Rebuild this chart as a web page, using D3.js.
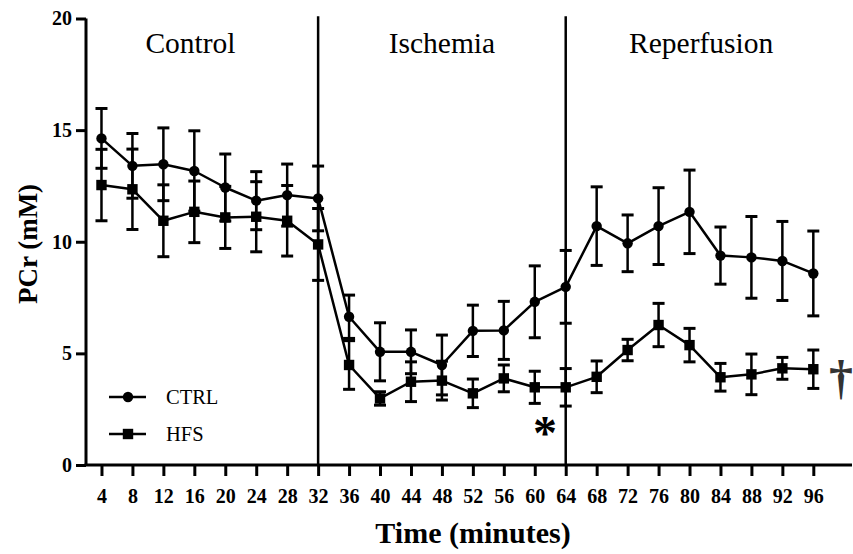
<!DOCTYPE html>
<html>
<head>
<meta charset="utf-8">
<script src="https://cdn.jsdelivr.net/npm/d3@7"></script>
<style>
  html, body { margin: 0; padding: 0; background: #fff; }
  svg { display: block; }
  svg text { font-family: "Liberation Serif", "Tinos", "Times New Roman", "DejaVu Serif", serif; }
</style>
</head>
<body>
<svg id="chart" width="853" height="554"></svg>
<script>
// ---- data ----
const times = [4, 8, 12, 16, 20, 24, 28, 32, 36, 40, 44, 48, 52, 56, 60, 64, 68, 72, 76, 80, 84, 88, 92, 96];
const ctrlMean = [14.63, 13.40, 13.47, 13.17, 12.43, 11.84, 12.09, 11.94, 6.64, 5.07, 5.07, 4.48, 6.01, 6.03, 7.31, 7.98, 10.70, 9.93, 10.70, 11.34, 9.38, 9.30, 9.14, 8.58];
const ctrlErr  = [1.34, 1.45, 1.63, 1.80, 1.50, 1.30, 1.39, 1.45, 0.97, 1.30, 0.98, 1.34, 1.15, 1.30, 1.61, 1.63, 1.76, 1.27, 1.72, 1.87, 1.28, 1.83, 1.77, 1.90];
const hfsMean  = [12.54, 12.35, 10.94, 11.34, 11.09, 11.12, 10.94, 9.88, 4.48, 2.98, 3.73, 3.78, 3.21, 3.88, 3.48, 3.48, 3.95, 5.15, 6.27, 5.37, 3.93, 4.06, 4.33, 4.29];
const hfsErr   = [1.60, 1.80, 1.61, 1.38, 1.39, 1.57, 1.58, 1.61, 1.09, 0.30, 0.89, 0.87, 0.64, 0.60, 0.72, 0.84, 0.71, 0.48, 0.97, 0.75, 0.62, 0.91, 0.49, 0.86];
const xTicks = [4, 8, 12, 16, 20, 24, 28, 32, 36, 40, 44, 48, 52, 56, 60, 64, 68, 72, 76, 80, 84, 88, 92, 96];
const yTicks = [0, 5, 10, 15, 20];
const phaseBounds = [32, 64];
const phases = [
  { name: "Control", t: 15.5 },
  { name: "Ischemia", t: 48 },
  { name: "Reperfusion", t: 81.5 }
];
const seriesNames = ["CTRL", "HFS"];

// ---- scales ----
const svg = d3.select("#chart");
const x = d3.scaleLinear().domain([2, 101]).range([86, 852]);
const y = d3.scaleLinear().domain([0, 20]).range([465, 18.5]);

const serif = '"Liberation Serif", "Tinos", "Times New Roman", "DejaVu Serif", serif';

// ---- axes ----
const yAxis = d3.axisLeft(y).tickValues(yTicks).tickSize(10).tickPadding(4).tickFormat(d3.format("d"));
const gy = svg.append("g").attr("transform", `translate(${x(2)},0)`).call(yAxis);
gy.attr("font-family", null).attr("font-size", null);
gy.select(".domain").attr("stroke-width", 3).attr("d", `M0,${y(20)}V${y(0)}`);
gy.selectAll(".tick line").attr("stroke-width", 3);
gy.selectAll(".tick text").style("font-family", serif).style("font-weight", "bold").style("font-size", "20px").attr("fill", "#000");

const xAxis = d3.axisBottom(x).tickValues(xTicks).tickSize(11).tickPadding(13).tickFormat(d3.format("d"));
const gx = svg.append("g").attr("transform", `translate(0,${y(0)})`).call(xAxis);
gx.attr("font-family", null).attr("font-size", null);
gx.select(".domain").attr("stroke-width", 3).attr("d", `M${x(2) - 1.5},0H${x(101)}`);
gx.selectAll(".tick line").attr("stroke-width", 3);
gx.selectAll(".tick text").style("font-family", serif).style("font-weight", "bold").style("font-size", "20px").attr("fill", "#000");

// phase boundaries
svg.selectAll(".phase-line").data(phaseBounds).enter().append("line")
  .attr("x1", d => x(d)).attr("x2", d => x(d))
  .attr("y1", y(20.1)).attr("y2", y(0))
  .attr("stroke", "#000").attr("stroke-width", 2.5);

svg.selectAll(".phase-label").data(phases).enter().append("text")
  .attr("x", d => x(d.t)).attr("y", 53)
  .attr("text-anchor", "middle")
  .style("font-family", serif).style("font-size", "29.5px")
  .text(d => d.name);

// axis titles
svg.append("text")
  .attr("transform", `translate(37,244) rotate(-90)`)
  .attr("text-anchor", "middle")
  .style("font-family", serif).style("font-weight", "bold").style("font-size", "27px")
  .text("PCr (mM)");

svg.append("text")
  .attr("x", 473).attr("y", 543)
  .attr("text-anchor", "middle")
  .style("font-family", serif).style("font-weight", "bold").style("font-size", "30px")
  .text("Time (minutes)");

// ---- series ----
function series(mean, err) {
  return times.map((t, i) => ({ t, m: mean[i], e: err[i] }));
}
const ctrl = series(ctrlMean, ctrlErr);
const hfs = series(hfsMean, hfsErr);

const line = d3.line().x(d => x(d.t)).y(d => y(d.m));

function drawSeries(data, marker) {
  const g = svg.append("g");
  g.append("path").datum(data).attr("d", line)
    .attr("fill", "none").attr("stroke", "#000").attr("stroke-width", 2.5).attr("stroke-linejoin", "round");
  const eb = g.selectAll(".eb").data(data).enter().append("g");
  eb.append("line")
    .attr("x1", d => x(d.t)).attr("x2", d => x(d.t))
    .attr("y1", d => y(d.m - d.e)).attr("y2", d => y(d.m + d.e))
    .attr("stroke", "#000").attr("stroke-width", 2.5);
  [-1, 1].forEach(s => {
    eb.append("line")
      .attr("x1", d => x(d.t) - 6).attr("x2", d => x(d.t) + 6)
      .attr("y1", d => y(d.m + s * d.e)).attr("y2", d => y(d.m + s * d.e))
      .attr("stroke", "#000").attr("stroke-width", 3);
  });
  if (marker === "circle") {
    g.selectAll(".mk").data(data).enter().append("circle")
      .attr("cx", d => x(d.t)).attr("cy", d => y(d.m)).attr("r", 5.2).attr("fill", "#000");
  } else {
    g.selectAll(".mk").data(data).enter().append("rect")
      .attr("x", d => x(d.t) - 5.2).attr("y", d => y(d.m) - 5.2)
      .attr("width", 10.4).attr("height", 10.4).attr("fill", "#000");
  }
}
drawSeries(hfs, "square");
drawSeries(ctrl, "circle");

// ---- legend ----
const legend = svg.append("g");
seriesNames.forEach((name, i) => {
  const ly = 397 + i * 37;
  legend.append("line").attr("x1", 109).attr("x2", 146).attr("y1", ly).attr("y2", ly)
    .attr("stroke", "#000").attr("stroke-width", 2.5);
  if (i === 0) {
    legend.append("circle").attr("cx", 128).attr("cy", ly).attr("r", 5.2).attr("fill", "#000");
  } else {
    legend.append("rect").attr("x", 122.8).attr("y", ly - 5.2).attr("width", 10.4).attr("height", 10.4).attr("fill", "#000");
  }
  legend.append("text").attr("x", 166).attr("y", ly + 7)
    .style("font-family", serif).style("font-size", "20.5px").text(name);
});

// ---- significance marks ----
svg.append("text").attr("x", 545).attr("y", 449)
  .attr("text-anchor", "middle")
  .style("font-family", serif).style("font-weight", "bold").style("font-size", "48px")
  .text("*");
svg.append("text").attr("x", 841).attr("y", 394)
  .attr("text-anchor", "middle")
  .style("font-family", serif).style("font-weight", "bold").style("font-size", "48px").attr("fill", "#333")
  .text("\u2020");
</script>
</body>
</html>
